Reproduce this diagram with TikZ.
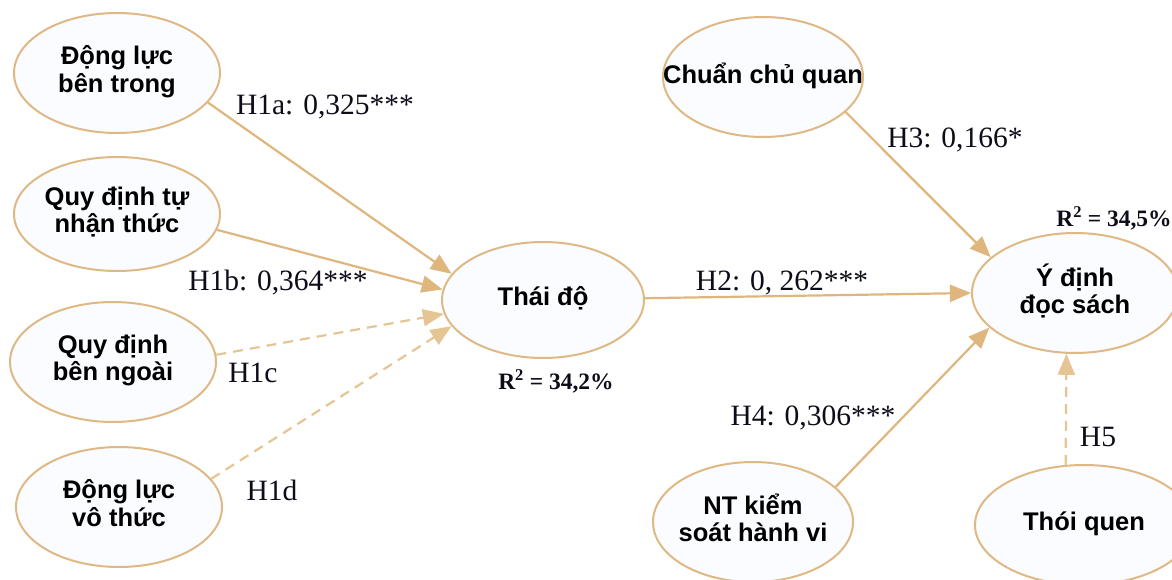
\documentclass[tikz,border=0pt]{standalone}
\usepackage{fontspec}
\setmainfont{Liberation Serif}
\newfontfamily\lsans{Liberation Sans}
\usetikzlibrary{shapes.geometric,arrows.meta}
\definecolor{edgec}{HTML}{DFB67E}
\definecolor{dashc}{HTML}{E6C594}
\definecolor{borderc}{HTML}{DFB985}
\definecolor{fillc}{HTML}{FAFCFF}
\definecolor{labc}{HTML}{0D0D1A}
\newcommand\ltext[1]{\makebox[0pt]{\begin{tabular}{@{}c@{}}#1\end{tabular}}}
\begin{document}
\begin{tikzpicture}[x=1pt,y=-1pt,
  latent/.style={ellipse, draw=borderc, line width=2pt, fill=fillc,
    minimum width=206pt, minimum height=120pt, inner sep=0pt,
    font=\lsans\bfseries\fontsize{25.5}{27}\selectfont},
  pathsolid/.style={draw=edgec, line width=2.2pt, -{Triangle[length=21pt,width=17pt]}},
  dpath/.style={pathsolid, draw=dashc, dash pattern=on 10pt off 7pt},
  lab/.style={font=\fontsize{29.5}{31}\selectfont, text=labc, inner sep=0pt},
  rsq/.style={font=\bfseries\fontsize{23.5}{25}\selectfont, text=labc, inner sep=0pt}]
\useasboundingbox (0,0) rectangle (1172,580);
\fill[white] (0,0) rectangle (1172,580);

\node[latent] (a) at (117,73) {\ltext{Động lực\\bên trong}};
\node[latent, minimum height=114pt] (b) at (117,214) {\ltext{Quy định tự\\nhận thức}};
\node[latent] (c) at (113,362) {\ltext{Quy định\\bên ngoài}};
\node[latent] (d) at (119,507) {\ltext{Động lực\\vô thức}};
\node[latent, minimum width=202pt, minimum height=116pt] (t) at (543,300) {\ltext{Thái độ}};
\node[latent, minimum width=200pt] (s) at (763,77) {\ltext{Chuẩn chủ quan}};
\node[latent] (y) at (1075,293) {\ltext{Ý định\\đọc sách}};
\node[latent, minimum width=200pt] (n) at (753,522) {\ltext{NT kiểm\\soát hành vi}};
\node[latent, minimum width=218pt] (h) at (1084,525) {\ltext{Thói quen}};

\draw[pathsolid] (a.-18) -- (t.164);
\draw[pathsolid] (b.-9) -- (t.174);
\draw[dpath] (c.4) -- (t.188);
\draw[dpath] (d.17) -- (t.196);
\draw[pathsolid] (t.1) -- (y.180);
\draw[pathsolid] (s.-23) -- (y.157);
\draw[pathsolid] (n.23) -- (y.202);
\draw[dpath] (h.107) -- (y.262);

\node[lab] (l1a) at (325,107) {H1a: 0,325***};
\node[lab] (l1b) at (278,283) {H1b: 0,364***};
\node[lab] (l1c) at (253,373) {H1c};
\node[lab] (l1d) at (272,490) {H1d};
\node[rsq] (r1) at (556,381) {R\textsuperscript{2} = 34,2\%};
\node[lab] (l2) at (782,283) {H2: 0, 262***};
\node[lab] (l3) at (955,140) {H3: 0,166*};
\node[rsq] (r2) at (1114,218) {R\textsuperscript{2} = 34,5\%};
\node[lab] (l4) at (813,418) {H4: 0,306***};
\node[lab] (l5) at (1098,437) {H5};
\end{tikzpicture}
\end{document}
